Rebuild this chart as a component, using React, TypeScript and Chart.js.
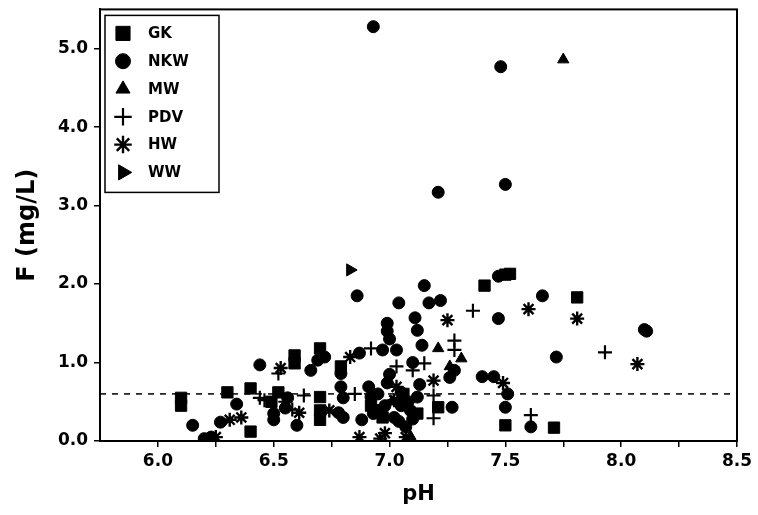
import React, { useEffect, useRef } from "react";
import { Chart, registerables } from "chart.js";
import { drawPoint } from "chart.js/helpers";

Chart.register(...registerables);

// ---- data (pH, F mg/L) ----
const seriesNames = ["GK", "NKW", "MW", "PDV", "HW", "WW"];

const gkPH = [6.10, 6.10, 6.30, 6.40, 6.40, 6.49, 6.52, 6.59, 6.59, 6.70, 6.70, 6.70, 6.70, 6.79, 6.92, 6.97, 7.06, 7.12, 7.21, 7.41, 7.50, 7.52, 7.50, 7.71, 7.81];
const gkF = [0.55, 0.45, 0.62, 0.67, 0.12, 0.50, 0.62, 1.09, 0.99, 1.18, 0.56, 0.39, 0.27, 0.95, 0.45, 0.30, 0.60, 0.35, 0.43, 1.98, 2.12, 2.13, 0.20, 0.17, 1.83];

const nkwPH = [6.93, 7.48, 7.21, 7.50, 6.86, 7.15, 7.66, 7.47, 7.04, 7.17, 7.22, 7.47, 8.11, 8.10, 7.72, 7.40, 7.45, 7.50, 7.61, 7.11, 7.12, 7.14, 6.99, 6.99, 7.00, 7.03, 7.28, 7.26, 7.10, 7.12, 7.09, 7.27, 6.69, 6.72, 6.66, 6.87, 6.97, 6.79, 6.79, 6.80, 6.91, 6.92, 6.99, 6.78, 6.80, 6.88, 6.95, 6.56, 6.50, 6.50, 6.15, 6.34, 6.27, 6.44, 7.07, 7.02, 6.95, 7.05, 6.60, 6.55, 6.20, 6.23, 7.51, 7.05, 7.08, 7.04, 7.10, 6.98, 6.93, 7.00, 7.13];
const nkwF = [5.28, 4.77, 3.17, 3.27, 1.85, 1.98, 1.85, 2.10, 1.76, 1.76, 1.79, 1.56, 1.40, 1.42, 1.07, 0.82, 0.82, 0.43, 0.18, 1.57, 1.41, 1.22, 1.50, 1.40, 1.30, 1.16, 0.90, 0.81, 1.00, 0.56, 0.39, 0.43, 1.03, 1.07, 0.90, 1.12, 1.16, 0.86, 0.69, 0.55, 0.69, 0.56, 0.74, 0.36, 0.30, 0.27, 0.39, 0.55, 0.27, 0.35, 0.20, 0.47, 0.24, 0.97, 0.18, 0.30, 0.60, 0.45, 0.20, 0.42, 0.03, 0.05, 0.60, 0.62, 0.50, 0.25, 0.28, 0.45, 0.35, 0.85, 0.72];

const mwPH = [7.75, 7.21, 7.31, 7.09, 7.01, 7.26];
const mwF = [4.86, 1.18, 1.05, 0.06, 0.50, 0.95];

const pdvPH = [7.36, 7.93, 7.61, 7.28, 7.28, 7.15, 7.10, 7.19, 7.19, 6.92, 6.63, 6.44, 6.46, 6.52, 6.55, 6.85, 7.03, 6.58];
const pdvF = [1.66, 1.13, 0.33, 1.28, 1.16, 0.99, 0.90, 0.58, 0.29, 1.18, 0.58, 0.55, 0.52, 0.86, 0.50, 0.60, 0.95, 0.40];

const hwPH = [7.60, 7.81, 8.07, 7.49, 7.25, 7.19, 7.03, 7.02, 6.53, 6.83, 6.74, 6.61, 6.31, 6.36, 6.98, 7.07, 6.96, 6.25, 6.87];
const hwF = [1.68, 1.56, 0.98, 0.74, 1.54, 0.77, 0.69, 0.52, 0.93, 1.07, 0.39, 0.36, 0.27, 0.30, 0.10, 0.05, 0.03, 0.05, 0.05];

const wwPH = [6.83];
const wwF = [2.18];

const thresholdF = 0.6;
const xTickValues = [6.0, 6.25, 6.5, 6.75, 7.0, 7.25, 7.5, 7.75, 8.0, 8.25, 8.5];
const yTickValues = [0, 1, 2, 3, 4, 5];

const FONT = "'DejaVu Sans', 'Liberation Sans', Arial, sans-serif";

const zip = (xs: number[], ys: number[]) => xs.map((x, i) => ({ x, y: ys[i] }));

type Style = { style: any; radius: number; rotation: number; bw: number };
const markerStyles: Style[] = [
  { style: "rect", radius: 8, rotation: 0, bw: 1 },
  { style: "circle", radius: 6, rotation: 0, bw: 1 },
  { style: "triangle", radius: 6.5, rotation: 0, bw: 1 },
  { style: "cross", radius: 7, rotation: 0, bw: 2.2 },
  { style: "star", radius: 7, rotation: 0, bw: 2.4 },
  { style: "triangle", radius: 7, rotation: 90, bw: 1 },
];

const seriesX = [gkPH, nkwPH, mwPH, pdvPH, hwPH, wwPH];
const seriesY = [gkF, nkwF, mwF, pdvF, hwF, wwF];

const legendPlugin = {
  id: "boxLegend",
  afterDraw(chart: any) {
    const ctx = chart.ctx;
    const { left, top, right, bottom } = chart.chartArea;
    ctx.save();
    // frame around plot area
    ctx.strokeStyle = "#000";
    ctx.lineWidth = 2;
    ctx.strokeRect(left, top, right - left, bottom - top);
    // legend box
    const bx = left + 5, by = top + 6, bw = 114, bh = 177;
    ctx.lineWidth = 1.5;
    ctx.fillStyle = "#fff";
    ctx.fillRect(bx, by, bw, bh);
    ctx.strokeRect(bx, by, bw, bh);
    ctx.font = `bold 15px ${FONT}`;
    ctx.textBaseline = "middle";
    ctx.textAlign = "left";
    const rowH = 27.8;
    seriesNames.forEach((name, i) => {
      const cy = by + 18 + i * rowH;
      const cx = bx + 18;
      const m = markerStyles[i];
      ctx.fillStyle = "#000";
      ctx.strokeStyle = "#000";
      ctx.lineWidth = m.bw;
      drawPoint(ctx, { pointStyle: m.style, rotation: m.rotation, borderWidth: m.bw, radius: m.radius * 1.25 } as any, cx, cy);
      ctx.fillStyle = "#000";
      ctx.fillText(name, bx + 43, cy + 1);
    });
    ctx.restore();
  },
};

export default function App() {
  const ref = useRef<HTMLCanvasElement | null>(null);
  useEffect(() => {
    document.body.style.margin = "0";
    const canvas = ref.current;
    if (!canvas) return;
    const datasets: any[] = seriesNames.map((name, i) => ({
      type: "scatter",
      label: name,
      data: zip(seriesX[i], seriesY[i]),
      pointStyle: markerStyles[i].style,
      pointRadius: markerStyles[i].radius,
      pointRotation: markerStyles[i].rotation,
      pointBorderWidth: markerStyles[i].bw,
      backgroundColor: "#000",
      borderColor: "#000",
      pointHoverRadius: markerStyles[i].radius,
    }));
    datasets.push({
      type: "line",
      label: "threshold",
      data: [
        { x: 5.75, y: thresholdF },
        { x: 8.5, y: thresholdF },
      ],
      borderColor: "#000",
      borderWidth: 1.5,
      borderDash: [6, 6],
      pointRadius: 0,
      fill: false,
    });
    const chart = new Chart(canvas, {
      type: "scatter",
      data: { datasets },
      options: {
        responsive: false,
        animation: false,
        layout: { padding: { top: 9, right: 21, left: 0, bottom: 0 } },
        plugins: { legend: { display: false }, tooltip: { enabled: false } },
        scales: {
          x: {
            type: "linear",
            min: 5.75,
            max: 8.5,
            afterFit: (s: any) => { s.height = 74; s.paddingLeft = 0; s.paddingRight = 0; },
            afterBuildTicks: (s: any) => { s.ticks = xTickValues.map((v) => ({ value: v })); },
            ticks: {
              color: "#000",
              font: { family: FONT, size: 17, weight: "bold" },
              padding: 4,
              autoSkip: false,
              maxRotation: 0,
              callback: (v: any) => (Math.abs(v * 2 - Math.round(v * 2)) < 1e-6 ? Number(v).toFixed(1) : ""),
            },
            grid: { drawOnChartArea: false, drawTicks: true, tickLength: 6, color: "#000", lineWidth: 1.5 },
            border: { display: true, color: "#000", width: 2 },
            title: { display: true, text: "pH", color: "#000", font: { family: FONT, size: 21, weight: "bold" }, padding: { top: 4, bottom: 8 } },
          },
          y: {
            type: "linear",
            min: 0,
            max: 5.5,
            afterFit: (s: any) => { s.width = 100; s.paddingTop = 0; s.paddingBottom = 0; },
            afterBuildTicks: (s: any) => { s.ticks = yTickValues.map((v) => ({ value: v })); },
            ticks: {
              color: "#000",
              font: { family: FONT, size: 17, weight: "bold" },
              padding: 6,
              callback: (v: any) => Number(v).toFixed(1),
            },
            grid: { drawOnChartArea: false, drawTicks: true, tickLength: 6, color: "#000", lineWidth: 1.5 },
            border: { display: true, color: "#000", width: 2 },
            title: { display: true, text: "F (mg/L)", color: "#000", font: { family: FONT, size: 24, weight: "bold" }, padding: { top: 13, bottom: 0 } },
          },
        },
      },
      plugins: [legendPlugin],
    } as any);
    return () => chart.destroy();
  }, []);
  return (
    <div style={{ width: 758, height: 515, background: "#fff" }}>
      <canvas ref={ref} width={758} height={515} />
    </div>
  );
}
